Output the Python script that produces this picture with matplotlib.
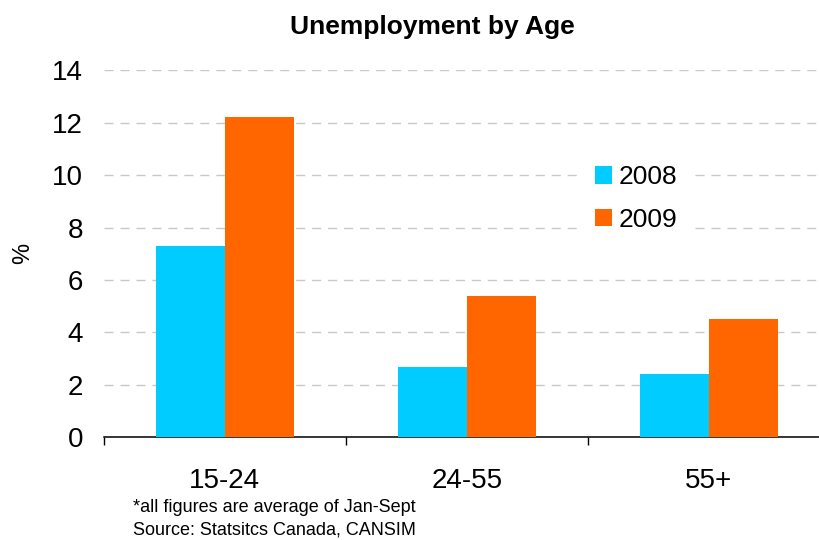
import numpy as np
import matplotlib.pyplot as plt

plt.rcParams['font.family'] = ['Liberation Sans', 'DejaVu Sans']

# datos
groups = ['15-24', '24-55', '55+']
years = ['2008', '2009']
rate_2008 = [7.3, 2.7, 2.4]
rate_2009 = [12.2, 5.4, 4.5]
y_ticks = [0, 2, 4, 6, 8, 10, 12, 14]

C_2008 = '#00CCFF'
C_2009 = '#FF6600'

#--------------------------------------------------------------------
# grafica
#--------------------------------------------------------------------

fig = plt.figure(figsize=(8.2, 5.4), dpi=100)
ax = fig.add_axes([0.1268, 0.190, 0.885, 0.680])

x = np.arange(len(groups))
w = 0.285
ax.bar(x - w, rate_2008, width=w, align='edge', color=C_2008, label=years[0], zorder=3)
ax.bar(x, rate_2009, width=w, align='edge', color=C_2009, label=years[1], zorder=3)

ax.set_xlim(-0.5, 2.5)
ax.set_ylim(0, 14)
ax.set_yticks(y_ticks)
ax.tick_params(axis='y', length=0, pad=15, labelsize=20)

ax.set_xticks(x)
ax.set_xticklabels(groups)
ax.set_xticks([-0.5, 0.5, 1.5, 2.5], minor=True)
ax.tick_params(axis='x', which='major', length=0, pad=22, labelsize=20)
ax.tick_params(axis='x', which='minor', length=6, width=1, direction='out')

ax.yaxis.grid(True, color='#c8c8c8', linewidth=1.0, dashes=(6.5, 5), zorder=0)
ax.set_axisbelow(True)

for s in ['left', 'right', 'top']:
    ax.spines[s].set_visible(False)
ax.spines['bottom'].set_linewidth(1.1)

ax.set_ylabel('%', fontsize=17)
ax.yaxis.set_label_coords(-0.096, 0.5)

fig.text(0.527, 0.950, 'Unemployment by Age', ha='center', va='center',
         fontsize=19, fontweight='bold')

# leyenda con fondo blanco (tapa la grilla)
leg = ax.legend(loc='upper left', bbox_to_anchor=(0.658, 0.777), frameon=True,
                fancybox=False, facecolor='white', edgecolor='none', framealpha=1,
                fontsize=19, handlelength=0.65, handleheight=0.65,
                handletextpad=0.25, labelspacing=0.7, borderpad=0.5,
                borderaxespad=0)

fig.text(0.162, 0.060, '*all figures are average of Jan-Sept', fontsize=13,
         ha='left', va='center')
fig.text(0.162, 0.019, 'Source: Statsitcs Canada, CANSIM', fontsize=13,
         ha='left', va='center')

plt.savefig('out.png', dpi=100)
